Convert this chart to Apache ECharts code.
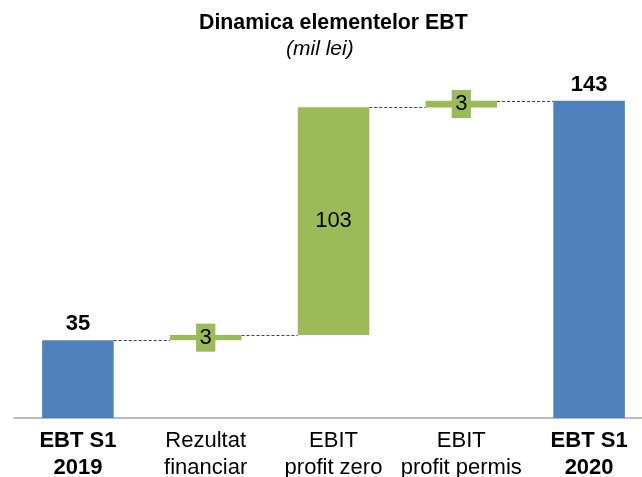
<!DOCTYPE html>
<html>
<head>
<meta charset="utf-8">
<script src="https://cdn.jsdelivr.net/npm/echarts@6/dist/echarts.min.js"></script>
<style>
  html, body { margin: 0; padding: 0; background: #fff; }
  #chart { width: 642px; height: 477px; }
</style>
</head>
<body>
<div id="chart"></div>
<script>
// categories shown on the x axis
const categories = ['EBT S1\n2019', 'Rezultat\nfinanciar', 'EBIT\nprofit zero', 'EBIT\nprofit permis', 'EBT S1\n2020'];
// labels printed on the bars
const valueLabels = [35, 3, 103, 3, 143];
// where each floating bar starts and ends (mil lei)
const barBottom = [0, 35, 37.4, 140, 0];
const barTop = [35, 37.4, 140, 143, 143];
// totals are blue and bold, steps are green
const isTotal = [true, false, false, false, true];

const FONT = "'Liberation Sans', Arial, sans-serif";
const BLUE = '#4F81BD';
const GREEN = '#9BBB59';
const BAR_RATIO = 0.56;

let chartDom = document.getElementById('chart');
let myChart = echarts.init(chartDom, null, {renderer: 'canvas'});

const barData = barTop.map((top, i) => {
  const total = isTotal[i];
  let label;
  if (total) {
    label = {position: 'top', distance: 5, fontWeight: 'bold'};
  } else if (top - barBottom[i] < 10) {
    // thin step: number sits in a green box
    label = {position: 'inside', backgroundColor: GREEN, padding: [3, 3.5, 3, 3.5]};
  } else {
    label = {position: 'inside'};
  }
  return {
    value: top - barBottom[i],
    itemStyle: {color: total ? BLUE : GREEN},
    label: label
  };
});

// dashed connectors from the top of each bar to the next one
const connectorData = barTop.slice(0, -1).map((lvl, i) => [i, lvl]);

let option = {
  animation: false,
  title: [
    {
      text: 'Dinamica elementelor EBT',
      left: 199,
      top: 13,
      padding: 0,
      textStyle: {fontSize: 21.3, fontWeight: 'bold', color: '#000', fontFamily: FONT}
    },
    {
      text: '(mil lei)',
      left: 286,
      top: 39,
      padding: 0,
      textStyle: {fontSize: 21, fontWeight: 'normal', fontStyle: 'italic', color: '#000', fontFamily: FONT}
    }
  ],
  grid: {
    left: 14,
    width: 639,
    top: 63,
    bottom: 59,
    containLabel: false,
    outerBoundsMode: 'none'
  },
  xAxis: {
    type: 'category',
    data: categories,
    axisTick: {show: false},
    axisLine: {lineStyle: {color: '#A6A6A6', width: 1.5}},
    axisLabel: {
      interval: 0,
      margin: 10,
      formatter: (value, index) => isTotal[index] ? '{b|' + value + '}' : '{n|' + value + '}',
      rich: {
        b: {fontSize: 22, lineHeight: 26.5, fontWeight: 'bold', color: '#000', fontFamily: FONT, align: 'center'},
        n: {fontSize: 22, lineHeight: 26.5, fontWeight: 'normal', color: '#000', fontFamily: FONT, align: 'center'}
      }
    }
  },
  yAxis: {
    type: 'value',
    min: 0,
    max: 160,
    show: false,
    splitLine: {show: false}
  },
  series: [
    {
      name: 'base',
      type: 'bar',
      stack: 'wf',
      barWidth: (BAR_RATIO * 100) + '%',
      itemStyle: {color: 'transparent'},
      silent: true,
      data: barBottom
    },
    {
      name: 'EBT',
      type: 'bar',
      stack: 'wf',
      barWidth: (BAR_RATIO * 100) + '%',
      label: {
        show: true,
        fontSize: 22,
        lineHeight: 22,
        color: '#000',
        fontFamily: FONT,
        formatter: (p) => String(valueLabels[p.dataIndex])
      },
      data: barData
    },
    {
      name: 'connectors',
      type: 'custom',
      silent: true,
      data: connectorData,
      renderItem: function (params, api) {
        const p = api.coord([api.value(0), api.value(1)]);
        const w = api.size([1, 0])[0];
        const half = w * BAR_RATIO / 2;
        const y = Math.round(p[1]) + 0.5;
        return {
          type: 'line',
          shape: {x1: p[0] + half, y1: y, x2: p[0] + w - half, y2: y},
          style: {stroke: '#404040', lineWidth: 1, lineDash: [3, 2]}
        };
      }
    }
  ]
};
option && myChart.setOption(option);
</script>
</body>
</html>
